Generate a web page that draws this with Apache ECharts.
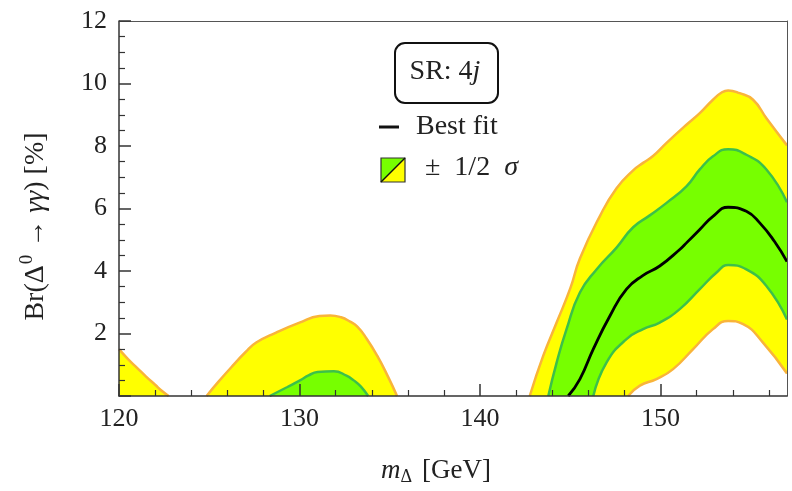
<!DOCTYPE html>
<html>
<head>
<meta charset="utf-8">
<script src="https://cdn.jsdelivr.net/npm/echarts@6/dist/echarts.min.js"></script>
<style>
html, body { margin: 0; padding: 0; background: #fff; }
#chart { width: 792px; height: 491px; }
</style>
</head>
<body>
<div id="chart"></div>
<script>
// tick values
var xMajor = [120, 130, 140, 150];
var xMinor = [122, 124, 126, 128, 132, 134, 136, 138, 142, 144, 146, 148, 152, 154, 156];

// outer band (yellow), upper edge - three separate pieces
var yellowUpA = [[120, 1.5], [120.5, 1.18], [121, 0.9], [121.5, 0.62], [122, 0.36], [122.4, 0.15], [122.75, 0]];
var yellowUpB = [[124.85, 0], [125.5, 0.45], [126.3, 0.97], [127, 1.4], [127.6, 1.71], [128.7, 2.03], [130, 2.35],
  [131.1, 2.56], [131.7, 2.58], [132.3, 2.52], [132.8, 2.38], [133.2, 2.22], [133.7, 1.85], [134.3, 1.29], [134.9, 0.62], [135.4, 0]];
var yellowUpC = [[142.75, 0], [143.5, 1.29], [144.24, 2.35], [145, 3.45], [145.53, 4.4], [146.63, 5.75], [147.56, 6.65],
  [148.48, 7.22], [149.03, 7.46], [149.58, 7.68], [150.33, 8.1], [151.43, 8.68], [152.17, 9.05], [152.9, 9.48],
  [153.4, 9.72], [153.74, 9.78], [154.38, 9.69], [155.12, 9.48], [155.86, 8.89], [157, 8.02]];
// outer band, lower edge
var yellowLowC = [[148.2, 0], [148.85, 0.33], [149.77, 0.54], [150.69, 0.86], [151.8, 1.5], [152.9, 2.14], [153.74, 2.4],
  [154.57, 2.3], [155.67, 1.71], [157, 0.72]];

// inner band (green)
var greenUpB = [[128.35, 0], [129.3, 0.28], [130, 0.49], [130.5, 0.66], [131, 0.77], [131.9, 0.79], [132.6, 0.65],
  [133, 0.5], [133.4, 0.3], [133.8, 0]];
var greenUpC = [[143.78, 0], [144.24, 1.07], [144.79, 2.14], [145.53, 3.31], [146.45, 4.05], [147.56, 4.75], [148.48, 5.4],
  [149.4, 5.78], [150.33, 6.18], [151.43, 6.71], [152.17, 7.25], [152.9, 7.67], [153.74, 7.9], [154.75, 7.72],
  [155.86, 7.25], [157, 6.2]];
var greenLowC = [[146.27, 0], [147, 1.07], [148.11, 1.82], [149.03, 2.14], [149.95, 2.35], [151.06, 2.78], [152.17, 3.42],
  [153.1, 3.95], [153.74, 4.19], [154.75, 4.05], [155.86, 3.52], [157, 2.45]];

// best fit
var bestFit = [[144.88, 0], [145.53, 0.54], [146.27, 1.5], [147.19, 2.56], [148.11, 3.42], [149.03, 3.86], [149.95, 4.16],
  [151.06, 4.69], [151.43, 4.9], [152.17, 5.33], [152.9, 5.75], [153.74, 6.04], [154.75, 5.91], [155.49, 5.54],
  [156.3, 4.95], [157, 4.3]];

var FONT = 'Liberation Serif';
var YELLOW = '#ffff00';
var GREEN = '#77ff00';
var ORANGE = '#f9b43a';
var GREENLINE = '#3cc04a';
var AXIS = '#333';

function curve(data, fill, edge, z) {
  var s = {
    type: 'line',
    xAxisIndex: 0,
    yAxisIndex: 0,
    data: data,
    smooth: 0.5,
    symbol: 'none',
    z: z,
    silent: true,
    lineStyle: { color: edge, width: 2.5 }
  };
  if (fill) s.areaStyle = { color: fill, opacity: 1 };
  return s;
}

var chart = echarts.init(document.getElementById('chart'));
chart.setOption({
  animation: false,
  backgroundColor: '#fff',
  grid: { left: 119, right: 5, top: 21, bottom: 94, containLabel: false },
  xAxis: [
    {
      type: 'value', min: 120, max: 157, position: 'bottom', z: 10,
      axisLine: { show: true, onZero: false, lineStyle: { color: AXIS, width: 1.5 } },
      axisTick: { show: true, inside: true, length: 12, customValues: xMajor, lineStyle: { color: AXIS, width: 1.5 } },
      axisLabel: { customValues: xMajor, margin: 10, fontFamily: FONT, fontSize: 26, color: '#222' },
      splitLine: { show: false },
      name: '{it|m}{sub|Δ} [GeV]',
      nameLocation: 'middle',
      nameGap: 60,
      nameTextStyle: {
        fontFamily: FONT, fontSize: 27, color: '#222',
        padding: [0, 34, 0, 0],
        rich: {
          it: { fontFamily: FONT, fontSize: 27, fontStyle: 'italic', color: '#222' },
          sub: { fontFamily: FONT, fontSize: 18, color: '#222', padding: [12, 3, 0, 0] }
        }
      }
    },
    {
      type: 'value', min: 120, max: 157, position: 'bottom', z: 10,
      axisLine: { show: false, onZero: false },
      axisTick: { show: true, inside: true, length: 6, customValues: xMinor, lineStyle: { color: AXIS, width: 1.2 } },
      axisLabel: { show: false },
      splitLine: { show: false }
    },
    {
      type: 'value', min: 120, max: 157, position: 'top', z: 10,
      axisLine: { show: true, onZero: false, lineStyle: { color: '#555', width: 1 } },
      axisTick: { show: false }, axisLabel: { show: false }, splitLine: { show: false }
    }
  ],
  yAxis: [
    {
      type: 'value', min: 0, max: 12, interval: 2, position: 'left', z: 10,
      axisLine: { show: true, onZero: false, lineStyle: { color: AXIS, width: 1.5 } },
      axisTick: { show: true, inside: true, length: 12, lineStyle: { color: AXIS, width: 1.5 } },
      minorTick: { show: true, splitNumber: 4, length: 6, lineStyle: { color: AXIS, width: 1.2 } },
      axisLabel: {
        margin: 12, fontFamily: FONT, fontSize: 26, color: '#222',
        formatter: function (v) { return v === 0 ? '' : String(v); }
      },
      splitLine: { show: false },
      minorSplitLine: { show: false },
      name: 'Br(Δ{sup|0} → {it|γγ}) [%]',
      nameLocation: 'middle',
      nameRotate: 90,
      nameGap: 66,
      nameTextStyle: {
        fontFamily: FONT, fontSize: 28, color: '#222',
        padding: [0, 36, 0, 0],
        rich: {
          it: { fontFamily: FONT, fontSize: 28, fontStyle: 'italic', color: '#222' },
          sup: { fontFamily: FONT, fontSize: 19, color: '#222', padding: [0, 0, 16, 1] }
        }
      }
    },
    {
      type: 'value', min: 0, max: 12, position: 'right', z: 10,
      axisLine: { show: true, onZero: false, lineStyle: { color: '#555', width: 1 } },
      axisTick: { show: false }, axisLabel: { show: false }, splitLine: { show: false }
    }
  ],
  series: [
    curve(yellowUpA, YELLOW, ORANGE, 2),
    curve(yellowUpB, YELLOW, ORANGE, 2),
    curve(yellowUpC, YELLOW, ORANGE, 2),
    curve(greenUpB, GREEN, GREENLINE, 3),
    curve(greenUpC, GREEN, GREENLINE, 3),
    curve(greenLowC, YELLOW, GREENLINE, 4),
    curve(yellowLowC, '#ffffff', ORANGE, 5),
    {
      type: 'line', data: bestFit, smooth: 0.5, symbol: 'none', z: 6, silent: true,
      lineStyle: { color: '#000', width: 2.8 }
    }
  ],
  graphic: [
    {
      type: 'rect', left: 394, top: 42, z: 20,
      shape: { width: 103, height: 60, r: 10 },
      style: { fill: '#fff', stroke: '#111', lineWidth: 2 }
    },
    {
      type: 'text', x: 445, y: 72, z: 21,
      style: {
        text: 'SR: 4{it|j}', fontFamily: FONT, fontSize: 28, fill: '#222',
        align: 'center', verticalAlign: 'middle',
        rich: { it: { fontFamily: FONT, fontSize: 28, fontStyle: 'italic', fill: '#222' } }
      }
    },
    {
      type: 'line', z: 21,
      shape: { x1: 379, y1: 127, x2: 399, y2: 127 },
      style: { stroke: '#111', lineWidth: 3 }
    },
    {
      type: 'text', left: 416, top: 113, z: 21,
      style: { text: 'Best fit', fontFamily: FONT, fontSize: 28, fill: '#222' }
    },
    {
      type: 'polygon', z: 21,
      shape: { points: [[381, 158], [405, 158], [381, 182]] },
      style: { fill: GREEN }
    },
    {
      type: 'polygon', z: 21,
      shape: { points: [[405, 158], [405, 182], [381, 182]] },
      style: { fill: YELLOW }
    },
    {
      type: 'rect', z: 22,
      shape: { x: 381, y: 158, width: 24, height: 24 },
      style: { fill: 'none', stroke: '#333', lineWidth: 1.2 }
    },
    {
      type: 'line', z: 22,
      shape: { x1: 381, y1: 182, x2: 405, y2: 158 },
      style: { stroke: '#111', lineWidth: 1.5 }
    },
    {
      type: 'text', left: 425, top: 154, z: 21,
      style: {
        text: '±  1/2  {it|σ}', fontFamily: FONT, fontSize: 28, fill: '#222',
        rich: { it: { fontFamily: FONT, fontSize: 28, fontStyle: 'italic', fill: '#222' } }
      }
    }
  ]
});
</script>
</body>
</html>
